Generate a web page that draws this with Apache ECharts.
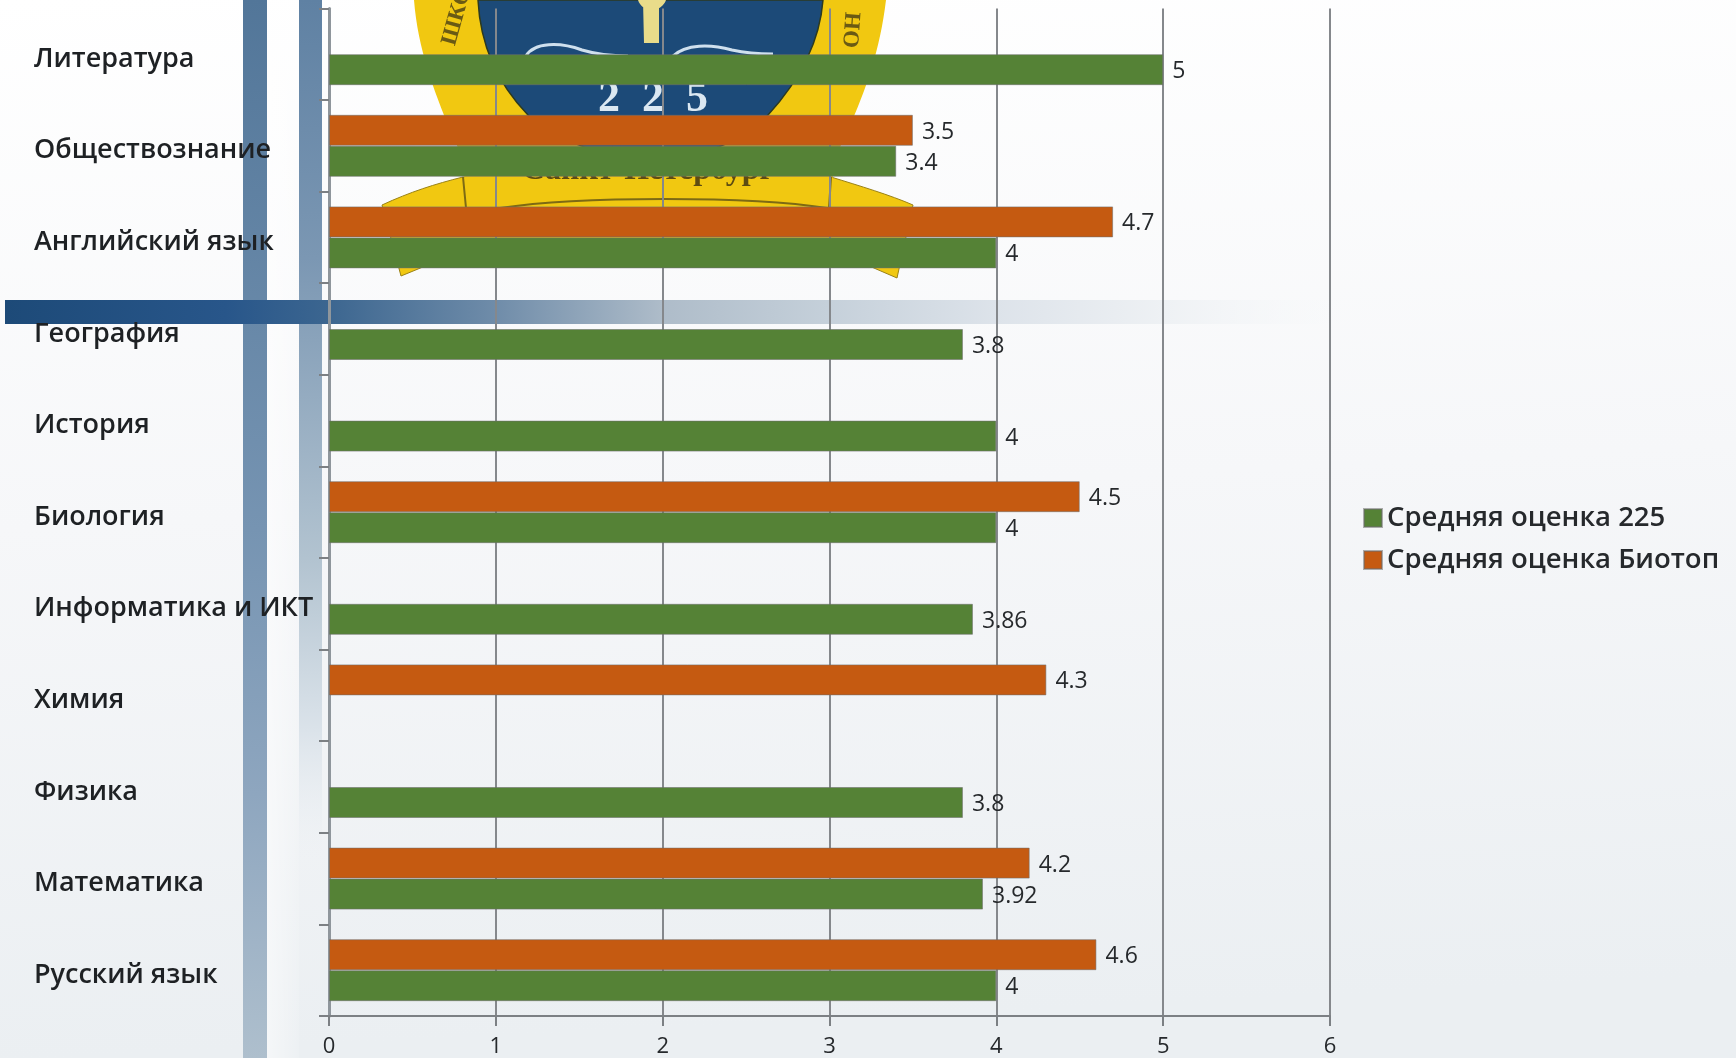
<!DOCTYPE html>
<html><head><meta charset="utf-8">
<style>html,body{margin:0;padding:0;background:#fff}#c{width:1736px;height:1058px;filter:blur(0.5px)}</style>
<script src="https://cdn.jsdelivr.net/npm/echarts@6/dist/echarts.min.js"></script>
</head><body><div id="c"></div>
<script>
const categories = ['Русский язык','Математика','Физика','Химия','Информатика и ИКТ','Биология','История','География','Английский язык','Обществознание','Литература'];
const avg225 =    [4, 3.92, 3.8, null, 3.86, 4, 4, 3.8, 4, 3.4, 5];
const avgBiotop = [4.6, 4.2, null, 4.3, null, 4.5, null, null, 4.7, 3.5, null];
const seriesNames = ['Средняя оценка 225','Средняя оценка Биотоп'];
const valueTicks = {min:0, max:6, interval:1};

const grad = (x2,y2,stops)=>({type:'linear',x:0,y:0,x2,y2,colorStops:stops.map(s=>({offset:s[0],color:s[1]}))});
const FONT = '"Open Sans","Noto Sans",sans-serif';
let pathCount = 0;
const pathEl = (d,style)=>{
  const name='emblemPath'+(pathCount++);
  echarts.graphic.registerShape(name,echarts.graphic.extendPath(d,{}));
  return {type:name,z:-8,shape:{},style};
};
const shapes = [
  // ---- backdrop strips
  {type:'rect',z:-9,shape:{x:267,y:0,width:32,height:1058},style:{fill:grad(1,0,[[0,'rgba(255,255,255,0.5)'],[1,'rgba(255,255,255,0.1)']])}},
  {type:'rect',z:-9,shape:{x:243,y:0,width:24,height:1058},style:{fill:grad(0,1,[[0,'#527699'],[0.5,'#7694b2'],[0.75,'#8ea6bf'],[1,'#aebfcd']])}},
  {type:'rect',z:-9,shape:{x:299,y:0,width:23,height:860},style:{fill:grad(0,1,[[0,'#5f81a3'],[0.3,'#7b97b3'],[0.65,'#b2c3d0'],[0.85,'#dbe3ea'],[1,'rgba(235,239,243,0)']])}},
  // ---- emblem
  pathEl('M382 205 C410 192 435 184 463 177 L831 177 C860 186 890 195 913 205 L897 278 L860 262 L435 262 L401 276 Z',{fill:'#f1c811',stroke:'#9a8215',lineWidth:1}),
  pathEl('M414 0 C418 50 434 90 450 130 C460 150 466 165 466 210 L831 210 C831 165 838 150 848 130 C866 90 880 50 886 0 Z',{fill:'#f1c811'}),
  pathEl('M478 0 C480 40 494 80 528 115 C565 150 630 160 652 160 C680 160 735 150 768 115 C800 80 820 40 823 0 Z',{fill:'#1c4a78',stroke:'#2c3a20',lineWidth:1.5}),
  pathEl('M643 0 L659 0 L659 43 L644 43 Z M638 0 L666 0 C664 6 658 10 652 10 C645 10 640 6 638 0 Z',{fill:'#e9dc8a'}),
  pathEl('M526 56 C534 42 560 42 582 50 C602 56 618 56 628 56',{fill:'none',stroke:'#cfe0ee',lineWidth:3}),
  pathEl('M673 56 C686 44 710 44 732 50 C750 54 764 54 773 54',{fill:'none',stroke:'#cfe0ee',lineWidth:3}),
  {type:'text',z:-7,style:{x:653,y:100,text:'2  2  5',fill:'#dbe8f2',font:'bold 44px "Liberation Serif",serif',textAlign:'center',textVerticalAlign:'middle'}},
  {type:'text',z:-7,style:{x:648,y:171,text:'Санкт-Петербург',fill:'#5d4c12',font:'bold 32px "Liberation Serif",serif',textAlign:'center',textVerticalAlign:'middle'}},
  {type:'text',z:-7,x:449,y:45,rotation:1.3,style:{x:0,y:0,text:'ШКО',fill:'#6a5a14',font:'bold 23px "Liberation Serif",serif',textAlign:'left',textVerticalAlign:'middle'}},
  {type:'text',z:-7,x:852,y:48,rotation:1.5,style:{x:0,y:0,text:'ОН',fill:'#6a5a14',font:'bold 23px "Liberation Serif",serif',textAlign:'left',textVerticalAlign:'middle'}},
  pathEl('M463 177 L466 208 M831 177 L829 208 M500 208 C580 196 750 196 827 208',{fill:'none',stroke:'#7d6a14',lineWidth:2}),
  // ---- horizontal strip
  {type:'rect',z:-6,shape:{x:5,y:300,width:1380,height:24},style:{fill:grad(1,0,[[0,'#1d4a78'],[0.16,'#28568a'],[0.235,'#3c6690'],[0.355,'#6f8ca9'],[0.476,'#aebcc9'],[0.596,'#c5d0da'],[0.718,'#dde3ea'],[0.84,'#eef1f4'],[1,'rgba(250,251,252,0)']])}}
];

const mkBar = (name,data,color)=>({
  name,type:'bar',data,barWidth:31,barGap:'0%',z:3,
  itemStyle:{color,borderColor:'rgba(110,110,110,0.55)',borderWidth:1},
  label:{show:true,position:'right',distance:9,offset:[0,2],color:'#26292c',fontFamily:FONT,fontSize:23,fontWeight:500}
});

const chart = echarts.init(document.getElementById('c'),null,{renderer:'canvas'});
chart.setOption({
  animation:false,
  backgroundColor:grad(0.03,1,[[0,'#ffffff'],[0.5,'#f6f7f9'],[1,'#ebeff2']]),
  graphic:{elements:shapes},
  legend:{orient:'vertical',left:1358,top:499,icon:'rect',itemWidth:18,itemHeight:18,itemGap:14,
    textStyle:{color:'#26292c',fontFamily:FONT,fontSize:27.5,fontWeight:600,lineHeight:22},
    data:seriesNames},
  grid:{left:329,right:406,top:8.4,bottom:41,containLabel:false},
  xAxis:{type:'value',min:valueTicks.min,max:valueTicks.max,interval:valueTicks.interval,
    axisLine:{show:true,lineStyle:{color:'#7c8084',width:2}},
    axisTick:{show:true,length:10,lineStyle:{color:'#7c8084',width:2}},
    axisLabel:{color:'#26292c',fontFamily:FONT,fontSize:22,margin:20,fontWeight:500},
    splitLine:{show:true,lineStyle:{color:'#85888c',width:2}}},
  yAxis:{type:'category',data:categories,
    axisLine:{show:true,onZero:false,lineStyle:{color:'#8f969c',width:3}},
    axisTick:{show:true,length:10,lineStyle:{color:'#7c8084',width:2}},
    axisLabel:{color:'#1e2124',fontFamily:FONT,fontSize:27,fontWeight:600,align:'left',verticalAlign:'top',lineHeight:10,margin:295,interval:0}},
  series:[mkBar(seriesNames[1],avgBiotop,'#c55a11'),mkBar(seriesNames[0],avg225,'#558236')]
});
</script></body></html>
